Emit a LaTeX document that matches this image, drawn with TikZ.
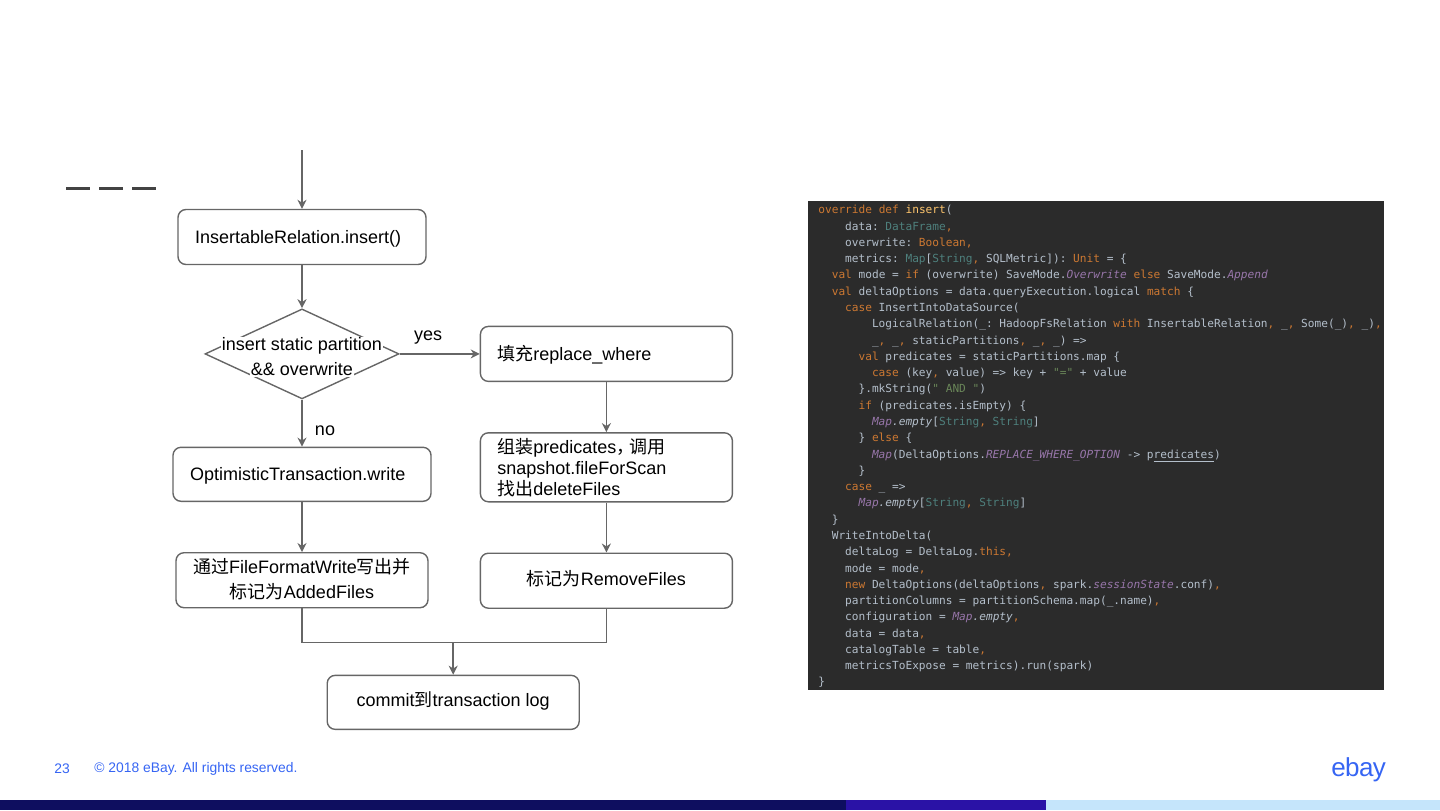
\documentclass[tikz,border=0pt]{standalone}
\usepackage{fontspec}
\setmainfont{Liberation Sans}
\setmonofont{DejaVu Sans Mono}
\newfontfamily\cjk{Noto Sans CJK SC}
\newfontfamily\logofont[LetterSpace=-2.5]{Liberation Sans}
\usetikzlibrary{arrows.meta,positioning,calc,shapes.geometric}
\definecolor{FlowGray}{HTML}{666666}
\definecolor{TitleGray}{HTML}{434343}
\definecolor{FootBlue}{HTML}{3665F3}
\definecolor{BarNavy}{HTML}{0E0E5F}
\definecolor{BarViolet}{HTML}{2A12A6}
\definecolor{BarSky}{HTML}{C5E5FB}
\definecolor{CodeBg}{HTML}{2B2B2B}
\definecolor{CodeFg}{HTML}{B4BFCB}
\definecolor{CodeKw}{HTML}{CC7832}
\definecolor{CodeTy}{HTML}{4E807D}
\definecolor{CodeStr}{HTML}{6A8759}
\definecolor{CodeIt}{HTML}{9876AA}
\definecolor{CodeFn}{HTML}{FFC66D}
\newcommand{\zh}[1]{{\cjk #1}}
\newlength{\codew}
\setlength{\codew}{3.35pt}
\newcommand{\ind}[1]{\hspace*{#1\codew}}
\newcommand{\kw}[1]{\textcolor{CodeKw}{#1}}
\newcommand{\ty}[1]{\textcolor{CodeTy}{#1}}
\newcommand{\str}[1]{\textcolor{CodeStr}{#1}}
\newcommand{\itc}[1]{\textcolor{CodeIt}{\itshape #1}}
\newcommand{\bgline}[1]{{\setlength{\fboxsep}{0.4pt}\colorbox{white}{#1}}}
\begin{document}
\begin{tikzpicture}[font=\fontsize{9pt}{12.5pt}\selectfont, text=black, node distance=25pt and 40pt,
  flowbox/.style={draw=FlowGray, line width=0.7pt, rounded corners=4pt, fill=white, align=center, inner sep=0pt, minimum height=27pt},
  leftbox/.style={flowbox, align=left, inner xsep=8.5pt, text width=#1},
  oneline/.style={text height=6.4pt, text depth=0pt},
  zhline/.style={text height=6.4pt, text depth=2pt},
  decision/.style={diamond, draw=FlowGray, line width=0.7pt, aspect=2.155, minimum width=97pt, minimum height=45pt, inner sep=0pt},
  flow/.style={-{Stealth[length=4.5pt,width=4.5pt]}, line width=0.8pt, draw=FlowGray},
  mergeline/.style={line width=0.8pt, draw=FlowGray},
  codetext/.style={anchor=north west, inner sep=0pt, align=left, text=CodeFg, font=\ttfamily\fontsize{5.57pt}{8.14pt}\selectfont},
  foot/.style={anchor=west, inner sep=0pt, text=FootBlue, font=\fontsize{6.93pt}{9pt}\selectfont}]
\useasboundingbox (0,0) rectangle (720pt,-405pt);
% title dashes and footer band
\foreach \x in {33,49.5,66} \fill[TitleGray] (\x pt,-93.25pt) rectangle ++(12pt,-1.5pt);
\fill[BarNavy] (0,-400pt) rectangle (423pt,-405pt);
\fill[BarViolet] (423pt,-400pt) rectangle (523pt,-405pt);
\fill[BarSky] (523pt,-400pt) rectangle (720pt,-405pt);
\node[foot] (pageno) at (27pt,-384.6pt) {23};
\node[foot] (copyright) at (47pt,-384.6pt) {© 2018 eBay. All rights reserved.};
\node[anchor=center, inner sep=0pt, text=FootBlue, font=\logofont\fontsize{13pt}{15pt}\selectfont] (logo) at (679.3pt,-385pt) {ebay};
% flow chart
\coordinate (entry) at (151pt,-75pt);
\node[leftbox=107pt, oneline, minimum height=27.5pt] (insert) at (151pt,-118.5pt) {InsertableRelation.insert()};
\node[decision, below=21.5pt of insert] (cond) {};
\node[align=center, inner sep=0pt, yshift=-1.5pt] (condtext) at (cond.center) {\bgline{insert static partition}\\\bgline{\&\& overwrite}};
\node[leftbox=112pt, oneline, below=23.5pt of cond] (write) {OptimisticTransaction.write};
\node[flowbox, minimum width=126pt, minimum height=27.5pt, text depth=2pt, below=25pt of write] (addf) {\zh{通过}FileFormatWrite\zh{写出并}\\\zh{标记为}AddedFiles};
\node[leftbox=109pt, oneline, minimum height=27.5pt, right=40pt of cond] (replace) {\zh{填充}replace\_where};
\node[leftbox=109pt, minimum height=34.5pt, below=25pt of replace, font=\fontsize{9pt}{10.5pt}\selectfont] (pred) {\zh{组装}predicates\zh{，}\hspace*{-2.5pt}\zh{调用}\\snapshot.fileForScan\\\zh{找出}deleteFiles};
\node[flowbox, minimum width=126pt, minimum height=27.5pt, zhline, below=25pt of pred] (rmf) {\zh{标记为}RemoveFiles};
\coordinate (merge) at ($(addf.south)!.5!(rmf.south)+(-0.5pt,-17pt)$);
\node[flowbox, minimum width=126pt, zhline, below=16pt of merge] (commit) {commit\zh{到}transaction log};
\node[inner sep=0pt, anchor=center] (yes) at (214pt,-169pt) {yes};
\node[inner sep=0pt, anchor=center] (no) at (162.5pt,-215.5pt) {no};
\draw[flow] (entry) -- (insert);
\draw[flow] (insert) -- (cond);
\draw[flow] (cond) -- (replace);
\draw[flow] (cond) -- (write);
\draw[flow] (write) -- (addf);
\draw[flow] (replace) -- (pred);
\draw[flow] (pred) -- (rmf);
\draw[mergeline] (addf.south) |- (merge) -| (rmf.south);
\draw[flow] (merge) -- (commit);
% code panel
\fill[CodeBg] (404pt,-100.5pt) rectangle (692pt,-345pt);
\node[codetext] (code) at (409pt,-102.5pt) {%
\kw{override def} \textcolor{CodeFn}{insert}(\\
\ind{4}data: \ty{DataFrame}\kw{,}\\
\ind{4}overwrite: \kw{Boolean,}\\
\ind{4}metrics: \ty{Map}[\ty{String}\kw{,} SQLMetric]): \kw{Unit} = \{\\
\ind{2}\kw{val} mode = \kw{if} (overwrite) SaveMode.\itc{Overwrite} \kw{else} SaveMode.\itc{Append}\\
\ind{2}\kw{val} deltaOptions = data.queryExecution.logical \kw{match} \{\\
\ind{4}\kw{case} InsertIntoDataSource(\\
\ind{8}LogicalRelation(\_: HadoopFsRelation \kw{with} InsertableRelation\kw{,} \_\kw{,} Some(\_)\kw{,} \_)\kw{,}\\
\ind{8}\_\kw{,} \_\kw{,} staticPartitions\kw{,} \_\kw{,} \_) =>\\
\ind{6}\kw{val} predicates = staticPartitions.map \{\\
\ind{8}\kw{case} (key\kw{,} value) => key + \str{"="} + value\\
\ind{6}\}.mkString(\str{" AND "})\\
\ind{6}\kw{if} (predicates.isEmpty) \{\\
\ind{8}\itc{Map}{\itshape .empty}[\ty{String}\kw{,} \ty{String}]\\
\ind{6}\} \kw{else} \{\\
\ind{8}\itc{Map}(DeltaOptions.\itc{REPLACE\_WHERE\_OPTION} -> p\underline{redicates})\\
\ind{6}\}\\
\ind{4}\kw{case} \_ =>\\
\ind{6}\itc{Map}{\itshape .empty}[\ty{String}\kw{,} \ty{String}]\\
\ind{2}\}\\
\ind{2}WriteIntoDelta(\\
\ind{4}deltaLog = DeltaLog.\kw{this,}\\
\ind{4}mode = mode\kw{,}\\
\ind{4}\kw{new} DeltaOptions(deltaOptions\kw{,} spark.\itc{sessionState}.conf)\kw{,}\\
\ind{4}partitionColumns = partitionSchema.map(\_.name)\kw{,}\\
\ind{4}configuration = \itc{Map}{\itshape .empty}\kw{,}\\
\ind{4}data = data\kw{,}\\
\ind{4}catalogTable = table\kw{,}\\
\ind{4}metricsToExpose = metrics).run(spark)\\
\}};
\end{tikzpicture}
\end{document}
